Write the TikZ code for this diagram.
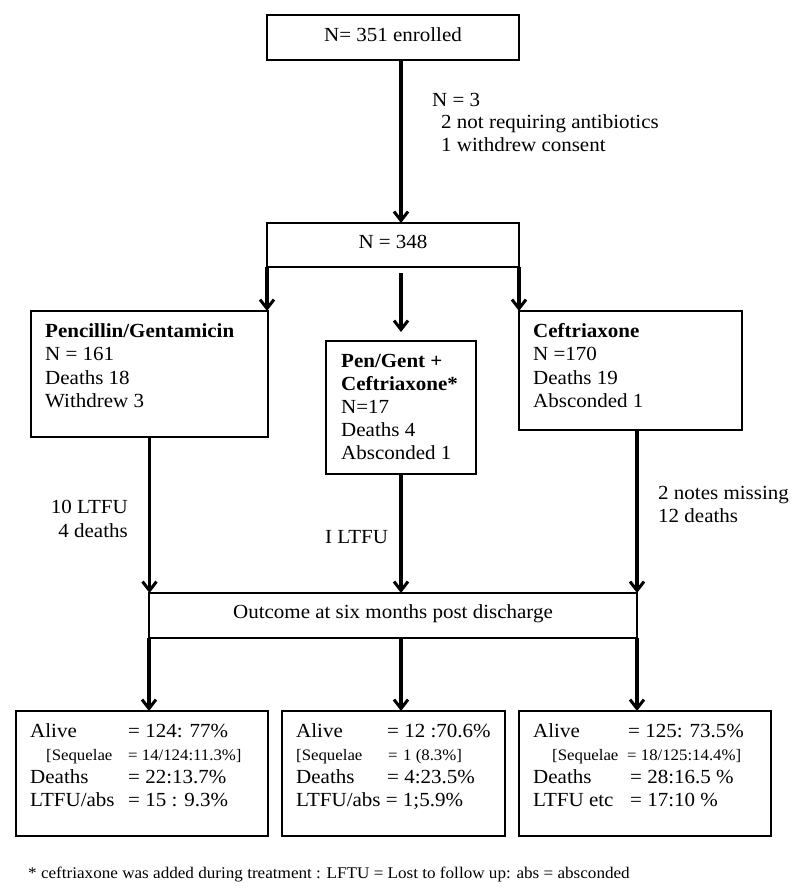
\documentclass[tikz,border=0pt]{standalone}
\usepackage{fontspec}
\setmainfont{Liberation Serif}[FakeStretch=1.05]
\usetikzlibrary{arrows.meta}
\begin{document}
\begin{tikzpicture}[x=1pt,y=-1pt,
  box/.style={draw, line width=2.9pt, inner sep=0pt, outer sep=0pt, anchor=north west},
  txt/.style={anchor=base west, inner sep=0pt, font=\fontsize{20}{23}\selectfont},
  sm/.style={anchor=base west, inner sep=0pt, font=\fontsize{16}{18}\selectfont},
  fn/.style={anchor=base west, inner sep=0pt, font=\fontsize{16.3}{19}\selectfont},
  conn/.style={line width=3.2pt},
  arr/.style={conn, -{Straight Barb[length=9pt,width=14pt,line width=3pt]}}]
\useasboundingbox (0,0) rectangle (800,893);
\coordinate (cx) at (401,0);
% boxes
\node[box, minimum width=252pt, minimum height=45pt] (enr) at (267,15) {};
\node[box, minimum width=252pt, minimum height=44pt] (n348) at (267,223) {};
\node[box, minimum width=237pt, minimum height=126pt] (pen) at (31,311) {};
\node[box, minimum width=150pt, minimum height=133pt] (mid) at (326,341) {};
\node[box, minimum width=223pt, minimum height=119pt] (cef) at (519,311) {};
\node[box, minimum width=488pt, minimum height=45pt] (out) at (149,593) {};
\node[box, minimum width=252pt, minimum height=125pt] (b1) at (16,711) {};
\node[box, minimum width=223pt, minimum height=125pt] (b2) at (282,711) {};
\node[box, minimum width=252pt, minimum height=125pt] (b3) at (519,711) {};
% box texts
\node[txt, anchor=base] (tenr) at (393,42) {N= 351 enrolled};
\node[txt, anchor=base] (t348) at (393,248) {N = 348};
\node[txt, anchor=base] (tout) at (393,618) {Outcome at six months post discharge};
\node[txt] (p1) at (45,337) {\textbf{Pencillin/Gentamicin}};
\node[txt] (p2) at (45,360) {N = 161};
\node[txt] (p3) at (45,384) {Deaths 18};
\node[txt] (p4) at (45,407) {Withdrew 3};
\node[txt] (m1) at (341,367) {\textbf{Pen/Gent +}};
\node[txt] (m2) at (341,390) {\textbf{Ceftriaxone*}};
\node[txt] (m3) at (341,413) {N=17};
\node[txt] (m4) at (341,436) {Deaths 4};
\node[txt] (m5) at (341,459) {Absconded 1};
\node[txt] (c1) at (533,337) {\textbf{Ceftriaxone}};
\node[txt] (c2) at (533,360) {N =170};
\node[txt] (c3) at (533,384) {Deaths 19};
\node[txt] (c4) at (533,407) {Absconded 1};
% bottom box 1
\node[txt] (a1) at (30,737) {Alive};
\node[txt] (a1v) at (128,737) {= 124: 77\%};
\node[sm] (s1) at (46,760) {[Sequelae};
\node[sm] (s1v) at (128,760) {= 14/124:11.3\%]};
\node[txt] (d1) at (30,783) {Deaths};
\node[txt] (d1v) at (128,783) {= 22:13.7\%};
\node[txt] (l1) at (30,806) {LTFU/abs};
\node[txt] (l1v) at (128,806) {= 15 : 9.3\%};
% bottom box 2
\node[txt] (a2) at (296,737) {Alive};
\node[txt] (a2v) at (387,737) {= 12 :70.6\%};
\node[sm] (s2) at (296,760) {[Sequelae};
\node[sm] (s2e) at (388,760) {=};
\node[sm] (s2v) at (403,760) {1 (8.3\%]};
\node[txt] (d2) at (296,783) {Deaths};
\node[txt] (d2v) at (387,783) {= 4:23.5\%};
\node[txt] (l2) at (296,806) {LTFU/abs = 1;5.9\%};
% bottom box 3
\node[txt] (a3) at (533,737) {Alive};
\node[txt] (a3v) at (628,737) {= 125: 73.5\%};
\node[sm] (s3) at (552,760) {[Sequelae};
\node[sm] (s3v) at (627,760) {= 18/125:14.4\%]};
\node[txt] (d3) at (533,783) {Deaths};
\node[txt] (d3v) at (630,783) {= 28:16.5 \%};
\node[txt] (l3) at (533,806) {LTFU etc};
\node[txt] (l3v) at (630,806) {= 17:10 \%};
% labels
\node[txt] (n3) at (432,107) {N = 3};
\node[txt] (n3a) at (441,129) {2 not requiring antibiotics};
\node[txt] (n3b) at (441,152) {1 withdrew consent};
\node[txt, anchor=base east] (ll1) at (128,513) {10 LTFU};
\node[txt, anchor=base east] (ll2) at (128,537) {4 deaths};
\node[txt] (ml1) at (325,543) {I LTFU};
\node[txt] (rl1) at (658,499) {2 notes missing};
\node[txt] (rl2) at (658,522) {12 deaths};
\node[fn] (foot) at (28,878) {* ceftriaxone was added during treatment : LFTU = Lost to follow up: abs = absconded};
% connectors
\draw[arr] (enr.south -| cx) -- (n348.north -| cx);
\draw[arr] (n348.south west) -- (n348.south west |- pen.north);
\draw[arr] (n348.south east) -- (n348.south east |- cef.north);
\draw[arr] ([yshift=-6pt]cx |- n348.south) -- ([yshift=9pt]cx |- mid.north);
\draw[arr] (pen.south) -- (pen.south |- out.north);
\draw[arr] (mid.south -| cx) -- (cx |- out.north);
\draw[arr] (cef.south -| out.north east) -- (out.north east);
\draw[arr] (out.south west) -- (out.south west |- b1.north);
\draw[arr] (out.south -| cx) -- (cx |- b2.north);
\draw[arr] (out.south east) -- (out.south east |- b3.north);
\end{tikzpicture}
\end{document}
